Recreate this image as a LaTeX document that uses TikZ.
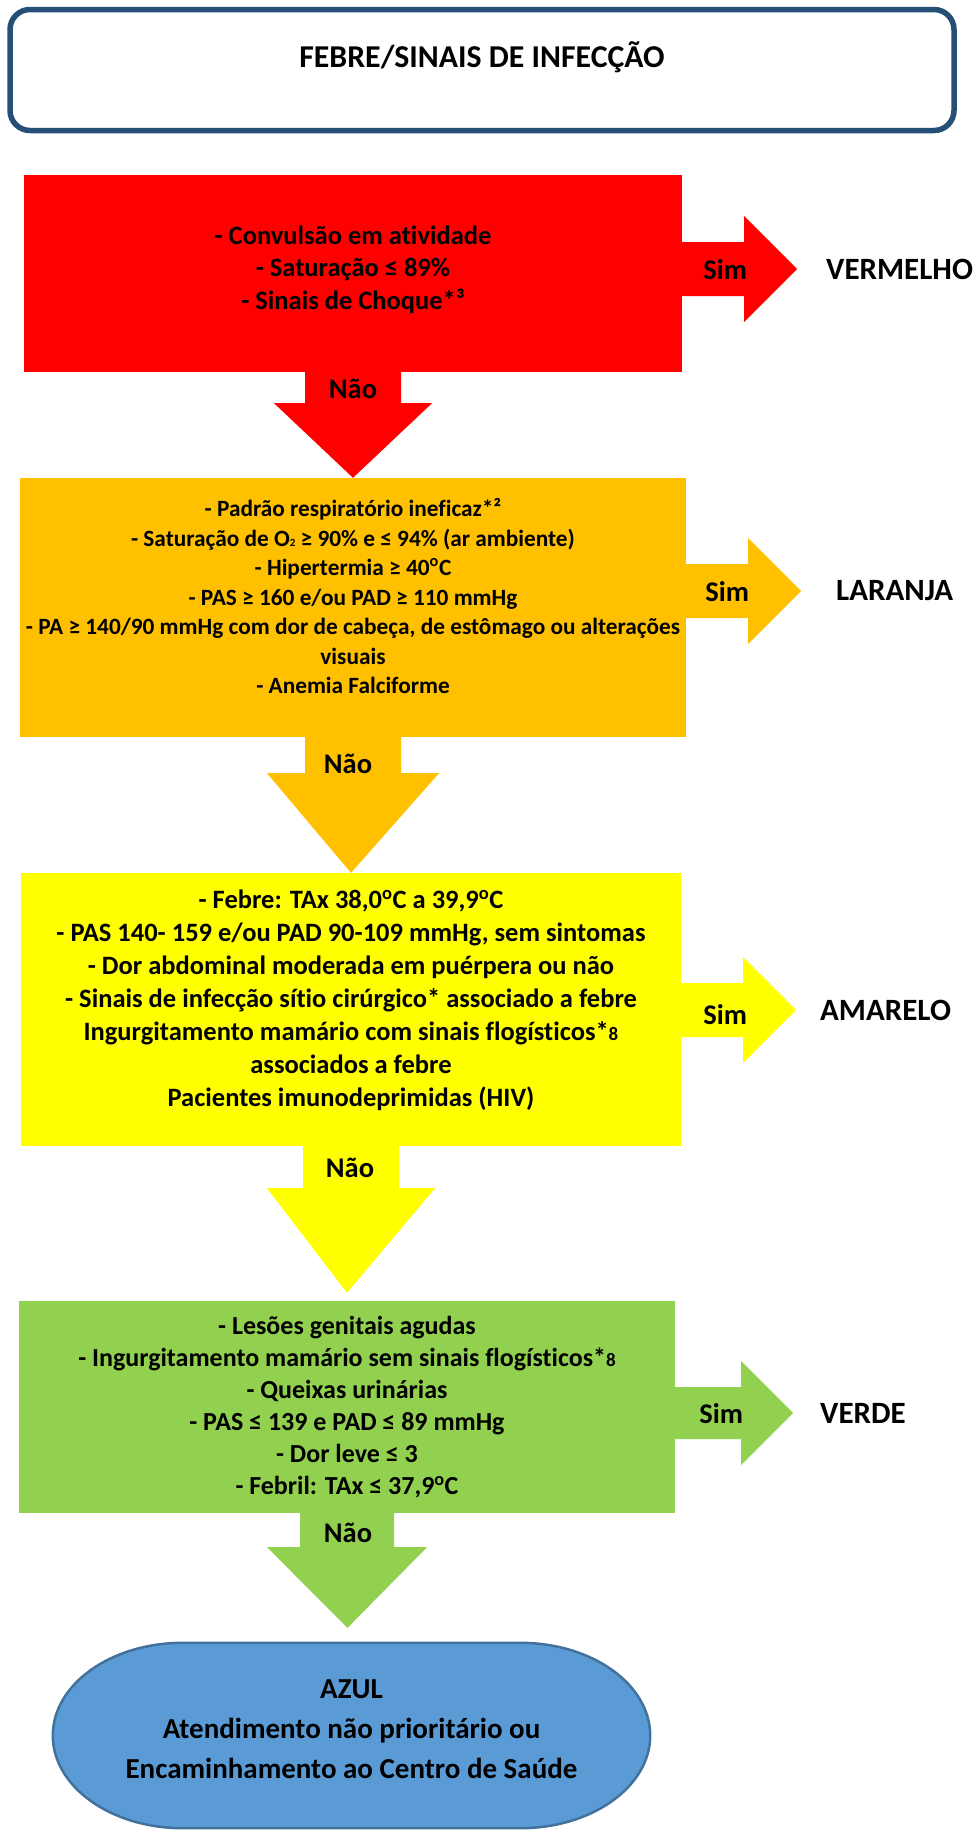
\documentclass[tikz,border=0pt]{standalone}
\usepackage{fontspec}
\setmainfont{Carlito}[Ligatures={NoCommon}]
\usepackage{xcolor}
\usetikzlibrary{calc,positioning,backgrounds}

\begin{document}
\begin{tikzpicture}[x=1pt,y=-1pt,
  critbox/.style={rectangle,align=center,inner sep=0pt,draw=none},
  simtxt/.style={inner sep=0pt,font=\bfseries\fontsize{28.5}{34}\selectfont},
  restxt/.style={anchor=west,inner sep=0pt,font=\bfseries\fontsize{31}{37}\selectfont}]
\definecolor{cvermelho}{HTML}{FF0000}
\definecolor{claranja}{HTML}{FFC000}
\definecolor{camarelo}{HTML}{FFFF00}
\definecolor{cverde}{HTML}{92D050}
\definecolor{cazul}{HTML}{5B9BD5}
\definecolor{cazulborda}{HTML}{41719C}
\definecolor{ctitulo}{HTML}{264F78}
\useasboundingbox (0,0) rectangle (976,1832);

% Title box
\node[rectangle,rounded corners=20pt,draw=ctitulo,line width=5.5pt,inner sep=0pt,
  minimum width=944pt,text height=57.5pt,text depth=63.5pt,
  font=\bfseries\fontsize{31.8}{37}\selectfont] (title) at (482,70) {FEBRE/SINAIS DE INFECÇÃO};

% Criteria boxes
\node[critbox,fill=cvermelho,minimum width=658pt,minimum height=197pt,
  font=\bfseries\fontsize{26.5}{32.5}\selectfont] (crit1) at (353,273.5)
  {- Convulsão em atividade\\- Saturação ≤ 89\%\\- Sinais de Choque*³\\[-20pt]\mbox{}};
\node[critbox,fill=claranja,minimum width=666pt,minimum height=259pt,
  font=\bfseries\fontsize{23.3}{29.5}\selectfont] (crit2) at (353,607.5)
  {- Padrão respiratório ineficaz*²\\
   - Saturação de O{\fontsize{11}{11}\selectfont 2} ≥ 90\% e ≤ 94\% (ar ambiente)\\
   - Hipertermia ≥ 40\textsuperscript{o}C\\
   - PAS ≥ 160 e/ou PAD ≥ 110 mmHg\\
   - PA ≥ 140/90 mmHg com dor de cabeça, de estômago ou alterações\\
   visuais\\
   - Anemia Falciforme\\[-7pt]\mbox{}};
\node[critbox,fill=camarelo,minimum width=660pt,minimum height=273pt,
  font=\bfseries\fontsize{26.5}{33}\selectfont] (crit3) at (351,1009.5)
  {- Febre: TAx 38,0\textsuperscript{o}C a 39,9\textsuperscript{o}C\\
   - PAS 140- 159 e/ou PAD 90-109 mmHg, sem sintomas\\
   - Dor abdominal moderada em puérpera ou não\\
   - Sinais de infecção sítio cirúrgico* associado a febre\\
   Ingurgitamento mamário com sinais flogísticos*{\fontsize{19}{19}\selectfont 8}\\
   associados a febre\\
   Pacientes imunodeprimidas (HIV)\\[-10pt]\mbox{}};
\node[critbox,fill=cverde,minimum width=656pt,minimum height=212pt,
  font=\bfseries\fontsize{26}{32}\selectfont] (crit4) at (347,1407)
  {- Lesões genitais agudas\\
   - Ingurgitamento mamário sem sinais flogísticos*{\fontsize{19}{19}\selectfont 8}\\
   - Queixas urinárias\\
   - PAS ≤ 139 e PAD ≤ 89 mmHg\\
   - Dor leve ≤ 3\\
   - Febril: TAx ≤ 37,9\textsuperscript{o}C};

% Final box
\node[critbox,minimum width=597pt,minimum height=185pt,
  font=\bfseries\fontsize{29}{40}\selectfont] (azul) at (351.5,1735.5)
  {AZUL\\Atendimento não prioritário ou\\Encaminhamento ao Centro de Saúde\\[-27pt]\mbox{}};
\begin{scope}[on background layer]
\filldraw[fill=cazul,draw=cazulborda,line width=2.5pt]
  ($(azul.north west)+(130,0)$) -- ($(azul.north east)+(-130,0)$)
  .. controls ($(azul.north east)+(-58,0)$) and ($(azul.east)+(0,-51)$) .. (azul.east)
  .. controls ($(azul.east)+(0,51)$) and ($(azul.south east)+(-58,0)$) .. ($(azul.south east)+(-130,0)$)
  -- ($(azul.south west)+(130,0)$)
  .. controls ($(azul.south west)+(58,0)$) and ($(azul.west)+(0,51)$) .. (azul.west)
  .. controls ($(azul.west)+(0,-51)$) and ($(azul.north west)+(58,0)$) .. ($(azul.north west)+(130,0)$)
  -- cycle;
\end{scope}

% Result labels
\node[restxt] (res1) at (826,269) {VERMELHO};
\node[restxt] (res2) at (836,591) {LARANJA};
\node[restxt] (res3) at (820,1010) {AMARELO};
\node[restxt] (res4) at (820,1413) {VERDE};

% Sim arrows
\fill[cvermelho] (crit1.east |- res1.west) ++(0,-27) -- ++(62,0) -- ++(0,-26) -- ++(53,53) -- ++(-53,53) -- ++(0,-26) -- ++(-62,0) -- cycle;
\fill[claranja] (crit2.east |- res2.west) ++(0,-27) -- ++(62,0) -- ++(0,-26) -- ++(53,53) -- ++(-53,53) -- ++(0,-26) -- ++(-62,0) -- cycle;
\fill[camarelo] (crit3.east |- res3.west) ++(0,-27) -- ++(62,0) -- ++(0,-26) -- ++(53,53) -- ++(-53,53) -- ++(0,-26) -- ++(-62,0) -- cycle;
\fill[cverde] (crit4.east |- res4.west) ++(0,-26) -- ++(66,0) -- ++(0,-26) -- ++(52,52) -- ++(-52,52) -- ++(0,-26) -- ++(-66,0) -- cycle;
\node[simtxt] (sim1) at ($(crit1.east |- res1.west)+(43,1)$) {Sim};
\node[simtxt] (sim2) at ($(crit2.east |- res2.west)+(41,1)$) {Sim};
\node[simtxt] (sim3) at ($(crit3.east |- res3.west)+(44,5)$) {Sim};
\node[simtxt] (sim4) at ($(crit4.east |- res4.west)+(46,1)$) {Sim};

% Nao arrows
\fill[cvermelho] ($(crit1.south)+(-48,0)$) -- ++(0,31) -- ++(-31,0) -- (crit2.north) -- ($(crit1.south)+(79,31)$) -- ++(-31,0) -- ++(0,-31) -- cycle;
\fill[claranja] ($(crit2.south)+(-48,0)$) -- ++(0,36) -- ++(-38,0) -- (crit3.north) -- ($(crit2.south)+(86,36)$) -- ++(-38,0) -- ++(0,-36) -- cycle;
\fill[camarelo] ($(crit3.south)+(-48,0)$) -- ++(0,42) -- ++(-36,0) -- ($(crit4.north)+(0,-8)$) -- ($(crit3.south)+(84,42)$) -- ++(-36,0) -- ++(0,-42) -- cycle;
\fill[cverde] ($(crit4.south)+(-47,0)$) -- ++(0,34) -- ++(-33,0) -- ($(azul.north)+(-4,-15)$) -- ($(crit4.south)+(80,34)$) -- ++(-33,0) -- ++(0,-34) -- cycle;
\node[simtxt] (nao1) at ($(crit1.south)+(0,17)$) {Não};
\node[simtxt] (nao2) at ($(crit2.south)+(-5,27)$) {Não};
\node[simtxt] (nao3) at ($(crit3.south)+(-1,22)$) {Não};
\node[simtxt] (nao4) at ($(crit4.south)+(1,20)$) {Não};
\end{tikzpicture}
\end{document}
